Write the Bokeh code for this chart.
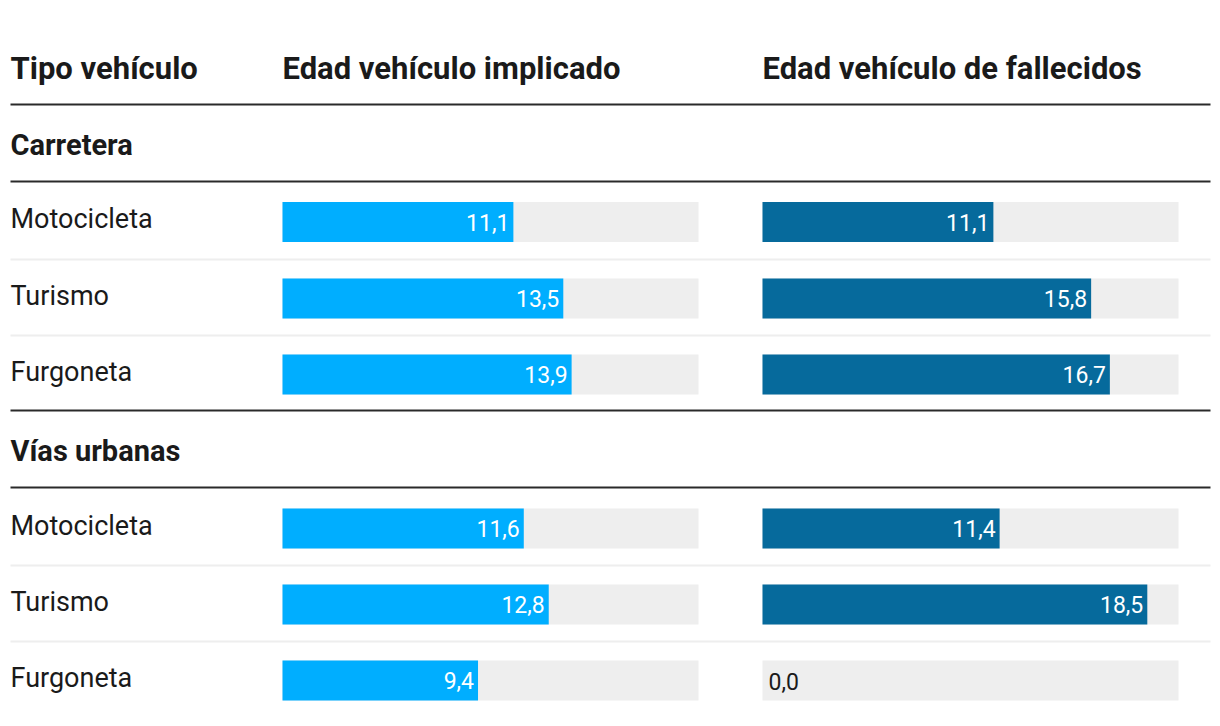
from bokeh.plotting import figure
from bokeh.models import Range1d, ColumnDataSource
from bokeh.core.properties import value
from bokeh.embed import file_html
from bokeh.resources import INLINE

# ---- data ----
col_headers = ["Tipo vehículo", "Edad vehículo implicado", "Edad vehículo de fallecidos"]
sections = ["Carretera", "Vías urbanas"]
vehicles = ["Motocicleta", "Turismo", "Furgoneta"]
implicado_carretera = [11.1, 13.5, 13.9]
fallecidos_carretera = [11.1, 15.8, 16.7]
implicado_urbanas = [11.6, 12.8, 9.4]
fallecidos_urbanas = [11.4, 18.5, 0.0]
scale_max = 20.0

# ---- layout constants (pixels) ----
W, H = 1212, 718
PPU = 20.8                     # pixels per data unit
COL1_PX = 282                  # left edge of first bar column
COL2_PX = 762                  # left edge of second bar column
LABEL_PX = 10
LINE_L_PX, LINE_R_PX = 10, 1210

def u(px):
    return (px - COL1_PX) / PPU

X0 = u(0)
X1 = u(W)
OFF2 = u(COL2_PX)

p = figure(width=W, height=H, x_range=Range1d(X0, X1), y_range=Range1d(H, 0),
           output_backend="svg", toolbar_location=None, min_border=0)
p.axis.visible = False
p.grid.visible = False
p.outline_line_color = None
p.background_fill_color = "white"
p.border_fill_color = "white"

DARK = "#1a1a1a"
BLUE1 = "#00aeff"
BLUE2 = "#066a9c"
GREY = "#eeeeee"

header_y = 68
sec_y = [144, 450]
row_y = [[221.5, 298, 374], [528, 604, 680]]
dark_lines = [104, 181, 410, 487]
light_lines = [259, 335, 565, 641]
bar_h = 40

# lines
p.segment(x0=[u(LINE_L_PX)] * 4, x1=[u(LINE_R_PX)] * 4, y0=dark_lines, y1=dark_lines,
          line_color="#2a2a2a", line_width=2)
p.segment(x0=[u(LINE_L_PX)] * 4, x1=[u(LINE_R_PX)] * 4, y0=light_lines, y1=light_lines,
          line_color=GREY, line_width=2)

# headers
p.text(x=[u(LABEL_PX), 0, OFF2], y=[header_y] * 3, text=col_headers,
       text_font=value("Roboto"), text_font_style="bold", text_font_size="31px",
       text_color=DARK, text_baseline="middle", text_align="left")
p.text(x=[u(LABEL_PX)] * 2, y=sec_y, text=sections,
       text_font=value("Roboto"), text_font_style="bold", text_font_size="29px",
       text_color=DARK, text_baseline="middle", text_align="left")

ys, labels, v1, v2 = [], [], [], []
for si, (a, b) in enumerate([(implicado_carretera, fallecidos_carretera),
                             (implicado_urbanas, fallecidos_urbanas)]):
    for ri, name in enumerate(vehicles):
        ys.append(row_y[si][ri])
        labels.append(name)
        v1.append(a[ri])
        v2.append(b[ri])

p.text(x=[u(LABEL_PX)] * len(ys), y=[y - 3 for y in ys], text=labels,
       text_font=value("Roboto"), text_font_size="27px",
       text_color=DARK, text_baseline="middle", text_align="left")

src = ColumnDataSource(dict(
    y=ys, v1=v1, v2=v2,
    r2=[OFF2 + v for v in v2],
    t1=[f"{v:.1f}".replace(".", ",") for v in v1],
    t2=[f"{v:.1f}".replace(".", ",") for v in v2],
))

# background tracks
p.hbar(y=ys, left=[0] * len(ys), right=[scale_max] * len(ys), height=bar_h,
       fill_color=GREY, line_color=None)
p.hbar(y=ys, left=[OFF2] * len(ys), right=[OFF2 + scale_max] * len(ys), height=bar_h,
       fill_color=GREY, line_color=None)
# value bars
p.hbar(y="y", left=0, right="v1", height=bar_h, fill_color=BLUE1, line_color=None, source=src)
p.hbar(y="y", left=OFF2, right="r2", height=bar_h, fill_color=BLUE2, line_color=None, source=src)

pad = 4 / PPU
p.text(x=[v - pad for v in v1], y=ys, text=src.data["t1"], text_font=value("Roboto"),
       text_font_size="23px", text_color="white", text_baseline="middle", text_align="right")

in_x, in_y, in_t, out_x, out_y, out_t = [], [], [], [], [], []
for v, y, t in zip(v2, ys, src.data["t2"]):
    if v > 2:
        in_x.append(OFF2 + v - pad); in_y.append(y); in_t.append(t)
    else:
        out_x.append(OFF2 + v + 6 / PPU); out_y.append(y + 1); out_t.append(t)
p.text(x=in_x, y=in_y, text=in_t, text_font=value("Roboto"),
       text_font_size="23px", text_color="white", text_baseline="middle", text_align="right")
p.text(x=out_x, y=out_y, text=out_t, text_font=value("Roboto"),
       text_font_size="23px", text_color=DARK, text_baseline="middle", text_align="left")

open("out.html", "w").write(file_html(p, INLINE))
